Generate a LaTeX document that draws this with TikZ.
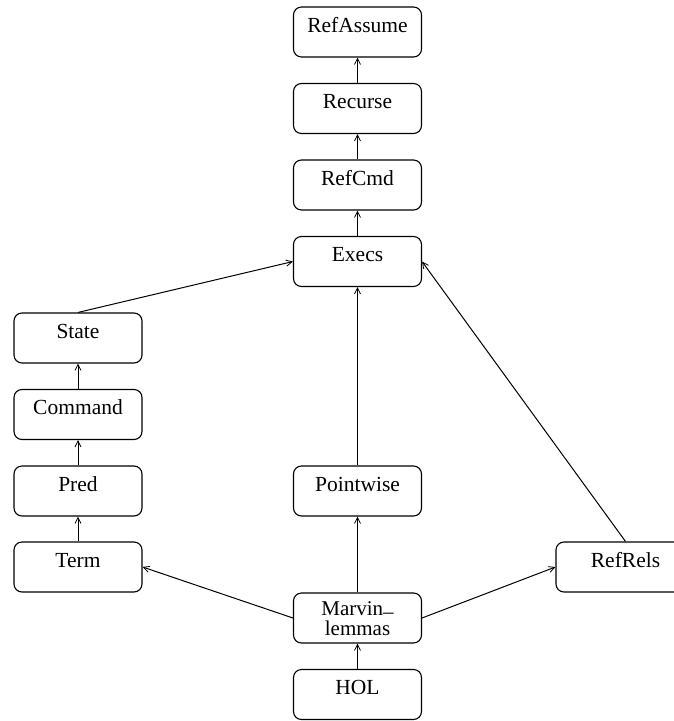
\documentclass[tikz,border=0pt]{standalone}
\usepackage{fontspec}
\setmainfont{Liberation Serif}
\usetikzlibrary{arrows.meta}
\begin{document}
\begin{tikzpicture}[x=1pt,y=-1pt,
  box/.style={draw,line width=1.1pt,rounded corners=8pt,minimum width=128pt,
    minimum height=50pt,inner sep=0pt,text height=25pt,text depth=25pt,
    font=\fontsize{21.5}{17}\selectfont},
  txt/.style={inner sep=0pt,anchor=base,font=\fontsize{21}{17}\selectfont},
  conn/.style={line width=1pt,-{Straight Barb[length=6pt,width=6pt,line width=0.8pt]}}]
\useasboundingbox (0,0) rectangle (673,721);
\node[box] (refassume) at (357.5,32) {RefAssume};
\node[box] (recurse) at (357.5,108.5) {Recurse};
\node[box] (refcmd) at (357.5,185) {RefCmd};
\node[box] (execs) at (357.5,261.5) {Execs};
\node[box] (state) at (78,338) {State};
\node[box] (command) at (78,414.5) {Command};
\node[box] (pred) at (78,491) {Pred};
\node[box] (term) at (78,567) {Term};
\node[box] (pointwise) at (357.5,491) {Pointwise};
\node[box,minimum width=139pt] (refrels) at (625.5,567) {RefRels};
\node[box] (marvin) at (357.5,618) {};
\node[txt] (marvin1) at (357.5,615.5) {Marvin\raisebox{4pt}{\_}};
\node[txt] (marvin2) at (357.5,635) {lemmas};
\node[box] (hol) at (357.5,694.5) {HOL};
\draw[conn] (recurse) -- (refassume);
\draw[conn] (refcmd) -- (recurse);
\draw[conn] (execs) -- (refcmd);
\draw[conn] (state.north) -- (execs.west);
\draw[conn] (pointwise) -- (execs);
\draw[conn] (refrels.north) -- (execs.east);
\draw[conn] (command) -- (state);
\draw[conn] (pred) -- (command);
\draw[conn] (term) -- (pred);
\draw[conn] (marvin) -- (pointwise);
\draw[conn] (marvin.west) -- (term.east);
\draw[conn] (marvin.east) -- (refrels.west);
\draw[conn] (hol) -- (marvin);
\end{tikzpicture}
\end{document}
